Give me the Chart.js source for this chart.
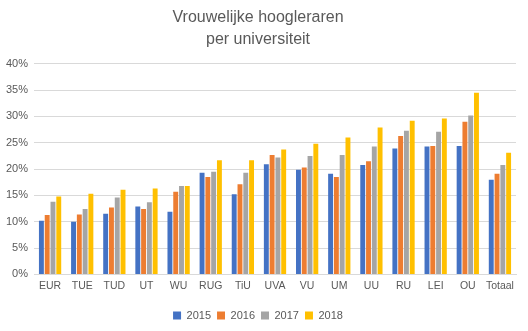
<!DOCTYPE html>
<html>
<head>
<meta charset="utf-8">
<script src="https://cdn.jsdelivr.net/npm/chart.js@4"></script>
<style>
  html, body { margin:0; padding:0; background:#fff; }
  #wrap { width:528px; height:331px; }
</style>
</head>
<body>
<div id="wrap"><canvas id="chart"></canvas></div>
<script>
// -- dati per universiteit, in procenten --
const universiteiten = ["EUR","TUE","TUD","UT","WU","RUG","TiU","UVA","VU","UM","UU","RU","LEI","OU","Totaal"];
const jaren = ["2015","2016","2017","2018"];
const v2015 = [10.2,10.0,11.5,12.9,11.9,19.3,15.2,20.9,19.9,19.1,20.8,23.9,24.3,24.4,18.0];
const v2016 = [11.3,11.4,12.7,12.4,15.7,18.5,17.1,22.7,20.3,18.5,21.5,26.3,24.4,29.0,19.1];
const v2017 = [13.8,12.4,14.6,13.7,16.8,19.5,19.3,22.2,22.5,22.7,24.3,27.3,27.1,30.2,20.8];
const v2018 = [14.8,15.3,16.1,16.3,16.8,21.7,21.7,23.7,24.8,26.0,27.9,29.2,29.6,34.5,23.1];
const kleuren = ["#4472C4","#ED7D31","#A5A5A5","#FFC000"];

const reeksen = [v2015, v2016, v2017, v2018];
const tekst = "#595959";
const lettertype = "'Liberation Sans', Arial, sans-serif";

new Chart(document.getElementById("chart"), {
  type: 'bar',
  data: {
    labels: universiteiten,
    datasets: reeksen.map((d,i) => ({
      label: jaren[i], data: d, backgroundColor: kleuren[i],
      categoryPercentage: 0.72, barPercentage: 0.85
    }))
  },
  options: {
    responsive: true, maintainAspectRatio: false, animation: false,
    layout: { padding: { left: 0, right: 12, top: 4, bottom: 0 } },
    plugins: {
      title: {
        display: true, text: ["Vrouwelijke hoogleraren", "per universiteit"],
        color: tekst, font: { family: lettertype, size: 16, weight: 'normal', lineHeight: 1.4 },
        padding: { top: 2, bottom: 13 }
      },
      legend: {
        position: 'bottom',
        labels: { boxWidth: 8, boxHeight: 8, color: tekst, padding: 6,
                  font: { family: lettertype, size: 11 } }
      },
      tooltip: { enabled: false }
    },
    scales: {
      x: {
        grid: { display: false, drawTicks: false },
        border: { color: "#d9d9d9" },
        ticks: { color: tekst, padding: 5, autoSkip: false, minRotation: 0, maxRotation: 0,
                 font: { family: lettertype, size: 10.5 } },
        // extra ruimte tussen as-labels en legenda
        afterFit: s => { s.height += 7; }
      },
      y: {
        min: 0, max: 40,
        grid: { color: "#d9d9d9", drawTicks: false },
        border: { display: false },
        ticks: { stepSize: 5, color: tekst, padding: 6,
                 font: { family: lettertype, size: 11 },
                 callback: v => v + "%" }
      }
    }
  }
});
</script>
</body>
</html>
